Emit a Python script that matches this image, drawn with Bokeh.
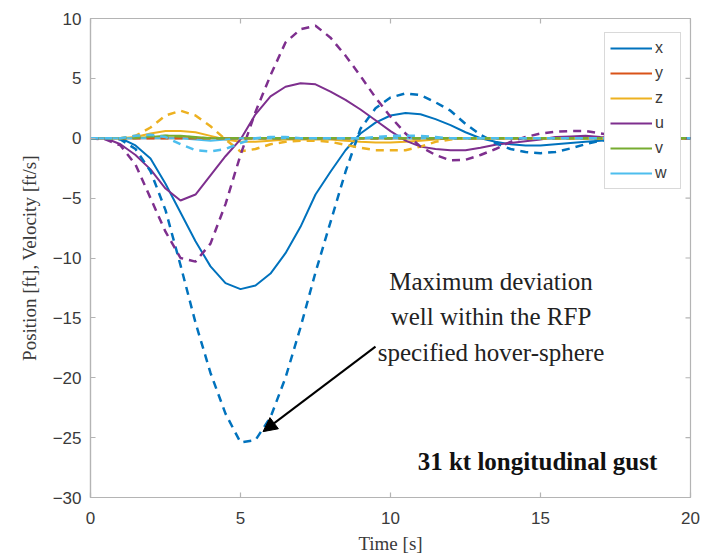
import math
from bokeh.plotting import figure
from bokeh.models import (Range1d, FixedTicker, Legend, LegendItem,
                          Label, Arrow, NormalHead)
from bokeh.embed import file_html
from bokeh.resources import INLINE

# ---------------- data ----------------
t = [i * 0.5 for i in range(41)]

x_solid = [0, 0, 0, -0.6, -1.7, -3.8, -6.2, -8.6, -10.7, -12.1, -12.6, -12.3, -11.3, -9.6,
           -7.4, -4.7, -2.8, -1.0, 0.4, 1.3, 1.9, 2.1, 2.0, 1.6, 1.1, 0.5, 0.0, -0.3, -0.5,
           -0.6, -0.6, -0.5, -0.4, -0.3, -0.2, -0.1, 0, 0, 0, 0, 0]
x_dash = [0, 0, -0.1, -0.9, -2.75, -6.0, -10.6, -15.4, -19.6, -23.0, -25.4, -25.2, -23.3,
          -20.0, -15.8, -11.2, -7.0, -2.8, 0.8, 2.5, 3.4, 3.75, 3.6, 3.0, 2.3, 1.2, 0.3,
          -0.4, -0.9, -1.15, -1.25, -1.15, -0.85, -0.5, -0.2, -0.05, 0, 0, 0, 0, 0]
y_solid = [0] * 41
y_dash = [0] * 41
z_solid = [0, 0, 0, 0.1, 0.4, 0.6, 0.6, 0.5, 0.2, -0.1, -0.3, -0.3, -0.2, -0.1, -0.1, -0.1,
           -0.1, -0.2, -0.3, -0.35, -0.35, -0.3, -0.2, -0.1, 0, 0, 0, 0, 0, 0, 0, 0, 0, 0,
           0, 0, 0, 0, 0, 0, 0]
z_dash = [0, 0, 0, 0.2, 0.9, 1.9, 2.3, 1.9, 1.0, -0.1, -1.1, -0.9, -0.5, -0.3, -0.2, -0.2,
          -0.3, -0.55, -0.8, -1.0, -1.0, -1.0, -0.7, -0.3, -0.1, 0, 0, 0, 0, 0, 0, 0, 0, 0,
          0, 0, 0, 0, 0, 0, 0]
u_solid = [0, 0, -0.5, -1.4, -2.6, -4.2, -5.2, -4.7, -3.1, -1.5, -0.1, 2.0, 3.5, 4.3, 4.6,
           4.5, 3.9, 3.2, 2.4, 1.5, 0.6, -0.2, -0.7, -0.9, -1.0, -1.0, -0.8, -0.55, -0.4,
           -0.25, -0.1, 0.1, 0.15, 0.2, 0.1, 0.05, 0, 0, 0, 0, 0]
u_dash = [0, -0.1, -0.6, -2.2, -5.0, -7.8, -10.0, -10.3, -8.8, -5.5, -1.4, 2.2, 5.25, 8.0,
          9.1, 9.4, 8.4, 6.9, 5.2, 3.4, 1.8, 0.4, -0.7, -1.4, -1.85, -1.8, -1.4, -0.9, -0.3,
          0.1, 0.4, 0.55, 0.6, 0.6, 0.4, 0.2, 0.05, 0, 0, 0, 0]
v_solid = [0, 0, 0, 0, 0.1, 0.2, 0.2, 0.1, 0, 0, 0, 0, 0, 0, 0, 0, 0, 0, 0, 0, 0, 0, 0, 0,
           0, 0, 0, 0, 0, 0, 0, 0, 0, 0, 0, 0, 0, 0, 0, 0, 0]
v_dash = [0, 0, 0, 0.05, 0.15, 0.2, 0.15, 0.05, 0, 0, 0, 0, 0, 0, 0, 0, 0, 0, 0, 0, 0, 0, 0,
          0, 0, 0, 0, 0, 0, 0, 0, 0, 0, 0, 0, 0, 0, 0, 0, 0, 0]
w_solid = [0, 0, 0, 0, 0, 0, 0, -0.1, -0.2, -0.1, 0, 0, 0, 0, 0, 0, 0, 0, 0, 0, 0, 0, 0, 0,
           0, 0, 0, 0, 0, 0, 0, 0, 0, 0, 0, 0, 0, 0, 0, 0, 0]
w_dash = [0, 0, 0, 0.2, 0.3, 0.1, -0.5, -1.0, -1.1, -0.9, -0.4, 0, 0.1, 0.1, 0, 0, 0, 0, 0,
          0.1, 0.2, 0.2, 0.2, 0.1, 0, 0, 0, 0, 0, 0, 0, 0, 0, 0, 0, 0, 0, 0, 0, 0, 0]

names = ["x", "y", "z", "u", "v", "w"]
solid = [x_solid, y_solid, z_solid, u_solid, v_solid, w_solid]
dashed = [x_dash, y_dash, z_dash, u_dash, v_dash, w_dash]
colors = ["#0072BD", "#D95319", "#EDB120", "#7E2F8E", "#77AC30", "#4DBEEE"]
ticks = [0, 5, 10, 15, 20]
yticks = [-30, -25, -20, -15, -10, -5, 0, 5, 10]

# ---------------- figure ----------------
AX = "#b4b4b4"
TXT = "#3a3a3a"
p = figure(frame_width=600, frame_height=479, output_backend="svg", toolbar_location=None,
           x_range=Range1d(0, 20), y_range=Range1d(-30, 10),
           min_border_left=90, min_border_right=20, min_border_top=18, min_border_bottom=58,
           background_fill_color="white", border_fill_color="white")
p.outline_line_color = AX
p.outline_line_width = 1.2
p.xgrid.visible = False
p.ygrid.visible = False

for ax, tk in ((p.xaxis[0], ticks), (p.yaxis[0], yticks)):
    ax.ticker = FixedTicker(ticks=tk)
    ax.axis_line_color = AX
    ax.axis_line_width = 1.2
    ax.major_tick_line_color = AX
    ax.major_tick_line_width = 1.2
    ax.major_tick_in = 5
    ax.major_tick_out = 0
    ax.minor_tick_line_color = None
    ax.major_label_text_font = "Liberation Sans"
    ax.major_label_text_font_size = "17px"
    ax.major_label_text_color = TXT
    ax.axis_label_text_font = "Liberation Serif"
    ax.axis_label_text_font_style = "normal"
    ax.axis_label_text_font_size = "19px"
    ax.axis_label_text_color = TXT
p.xaxis[0].major_label_standoff = 14
p.yaxis[0].major_label_standoff = 9
p.xaxis.axis_label = "Time [s]"
p.yaxis.axis_label = "Position [ft], Velocity [ft/s]"
p.xaxis[0].axis_label_standoff = 6
p.yaxis[0].axis_label_standoff = 10

# inward tick marks on the top and right edges of the box (clipped to the frame)
p.scatter(ticks, [p.y_range.end] * len(ticks), marker="dash", size=10, angle=math.pi / 2,
          line_color=AX, line_width=1.2)
p.scatter([p.x_range.end] * len(yticks), yticks, marker="dash", size=10,
          line_color=AX, line_width=1.2)

# ---------------- lines ----------------
items = []
for n, ys, c in zip(names, solid, colors):
    r = p.line(t, ys, line_color=c, line_width=2)
    items.append(LegendItem(label=n, renderers=[r]))
for n, ys, c in zip(names, dashed, colors):
    p.line(t, ys, line_color=c, line_width=2.5, line_dash="8 6")

legend = Legend(items=items, location=(514, 308), orientation="vertical")
legend.border_line_color = AX
legend.border_line_width = 1.2
legend.background_fill_alpha = 1
legend.label_text_font = "Liberation Sans"
legend.label_text_font_size = "16px"
legend.label_text_color = TXT
legend.glyph_width = 42
legend.glyph_height = 20
legend.label_height = 20
legend.spacing = 5
legend.padding = 5
legend.margin = 0
legend.label_standoff = 3
p.add_layout(legend, "center")

# ---------------- annotations ----------------
note = ["Maximum deviation", "well within the RFP", "specified hover-sphere"]
for i, s in enumerate(note):
    p.add_layout(Label(x=13.35, y=-11.95 - 2.95 * i, text=s, text_align="center",
                       text_baseline="middle", text_font="Liberation Serif",
                       text_font_size="25px", text_color="#222222"))
p.add_layout(Label(x=14.9, y=-27.0, text="31 kt longitudinal gust", text_align="center",
                   text_baseline="middle", text_font="Liberation Serif",
                   text_font_style="bold", text_font_size="25px", text_color="#111111"))
p.add_layout(Arrow(x_start=9.5, y_start=-17.4, x_end=5.75, y_end=-24.5,
                   line_color="black", line_width=2,
                   end=NormalHead(size=14, fill_color="black", line_color="black")))

open("out.html", "w").write(file_html(p, INLINE))
